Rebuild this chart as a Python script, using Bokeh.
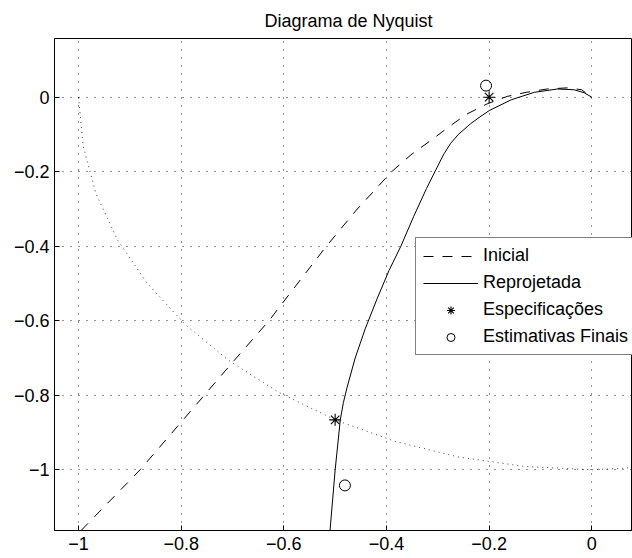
from bokeh.plotting import figure
from bokeh.models import Range1d, FixedTicker, Legend, LegendItem
from bokeh.embed import file_html
from bokeh.resources import INLINE

# ---- data ----
x_ticks = [-1.0, -0.8, -0.6, -0.4, -0.2, 0.0]
x_labels = ["−1", "−0.8", "−0.6", "−0.4", "−0.2", "0"]
y_ticks = [0.0, -0.2, -0.4, -0.6, -0.8, -1.0]
y_labels = ["0", "−0.2", "−0.4", "−0.6", "−0.8", "−1"]

# unit circle reference (dotted)
circ_x = [-1.0, -0.991, -0.966, -0.924, -0.866, -0.793, -0.707, -0.609, -0.5,
          -0.383, -0.259, -0.131, 0.0, 0.131]
circ_y = [0.0, -0.131, -0.259, -0.383, -0.5, -0.609, -0.707, -0.793, -0.866,
          -0.924, -0.966, -0.991, -1.0, -0.991]

# Inicial (dashed)
ini_x = [-0.995, -0.88, -0.755, -0.697, -0.629, -0.581, -0.52, -0.46, -0.39,
         -0.35, -0.311, -0.275, -0.243, -0.204, -0.165, -0.128, -0.087, -0.048,
         -0.02, 0.0]
ini_y = [-1.163, -1.0, -0.8, -0.707, -0.6, -0.514, -0.405, -0.305, -0.2,
         -0.152, -0.1135, -0.076, -0.045, -0.018, 0.002, 0.013, 0.022, 0.025,
         0.02, 0.0]

# Reprojetada (solid)
rep_x = [-0.51, -0.5, -0.49, -0.484, -0.477, -0.461, -0.441, -0.418, -0.395,
         -0.372, -0.347, -0.322, -0.302, -0.288, -0.275, -0.26, -0.236, -0.218,
         -0.2, -0.157, -0.112, -0.067, -0.035, -0.015, 0.0]
rep_y = [-1.163, -1.0, -0.866, -0.82, -0.78, -0.70, -0.62, -0.54, -0.465,
         -0.40, -0.32, -0.245, -0.19, -0.152, -0.124, -0.10, -0.071, -0.053,
         -0.036, -0.007, 0.013, 0.022, 0.02, 0.012, 0.0]

# Especificações (asterisks)
esp_x = [-0.2, -0.5]
esp_y = [0.0, -0.866]

# Estimativas Finais (circles)
est_x = [-0.206, -0.481]
est_y = [0.031, -1.042]

FONT = "Liberation Sans"

p = figure(width=632, height=558,
           x_range=Range1d(-1.0468, 0.0793), y_range=Range1d(-1.163, 0.1575),
           output_backend="svg", toolbar_location=None,
           min_border_left=54, min_border_right=0, min_border_top=38,
           min_border_bottom=28)

p.title.text = "Diagrama de Nyquist"
p.title.align = "left"
p.title.offset = 210
p.title.standoff = 15
p.title.text_font = FONT
p.title.text_font_size = "18px"
p.title.text_font_style = "normal"
p.title.text_color = "black"

p.outline_line_color = "black"
p.outline_line_width = 1
p.background_fill_color = "white"
p.border_fill_color = "white"

for ax, ticks, labels, so in ((p.xaxis[0], x_ticks, x_labels, 6),
                              (p.yaxis[0], y_ticks, y_labels, 5)):
    ax.ticker = FixedTicker(ticks=ticks)
    ax.major_label_overrides = {t: l for t, l in zip(ticks, labels)}
    ax.major_label_text_font = FONT
    ax.major_label_text_font_size = "18px"
    ax.major_label_text_color = "black"
    ax.axis_line_color = "black"
    ax.major_tick_in = 5
    ax.major_tick_out = 0
    ax.minor_tick_line_color = None
    ax.major_tick_line_color = "black"
    ax.major_label_standoff = so

for g in (p.xgrid[0], p.ygrid[0]):
    g.grid_line_color = "black"
    g.grid_line_dash = "1 7"
    g.grid_line_alpha = 0.85

p.line(circ_x, circ_y, line_color="black", line_dash="1 4", line_width=1, line_alpha=0.75)
r_ini = p.line(ini_x, ini_y, line_color="black", line_dash="10 9", line_width=1)
r_rep = p.line(rep_x, rep_y, line_color="black", line_width=1)
r_esp = p.scatter(esp_x, esp_y, marker="asterisk", size=12, line_color="black", line_width=1.1)
r_est = p.scatter(est_x, est_y, marker="circle", size=11, line_color="black",
                  fill_color=None, line_width=1)

legend = Legend(items=[
    LegendItem(label="Inicial", renderers=[r_ini]),
    LegendItem(label="Reprojetada", renderers=[r_rep]),
    LegendItem(label="Especificações", renderers=[r_esp]),
    LegendItem(label="Estimativas Finais", renderers=[r_est]),
], location=(361, 175))
legend.label_text_font = FONT
legend.label_text_font_size = "18px"
legend.label_text_color = "black"
legend.glyph_width = 55
legend.glyph_height = 20
legend.label_height = 20
legend.spacing = 6
legend.padding = 7
legend.margin = 0
legend.label_standoff = 5
legend.border_line_color = "black"
legend.border_line_width = 1
legend.background_fill_color = "white"
legend.background_fill_alpha = 1
p.add_layout(legend, "center")

open("out.html", "w").write(file_html(p, INLINE))
